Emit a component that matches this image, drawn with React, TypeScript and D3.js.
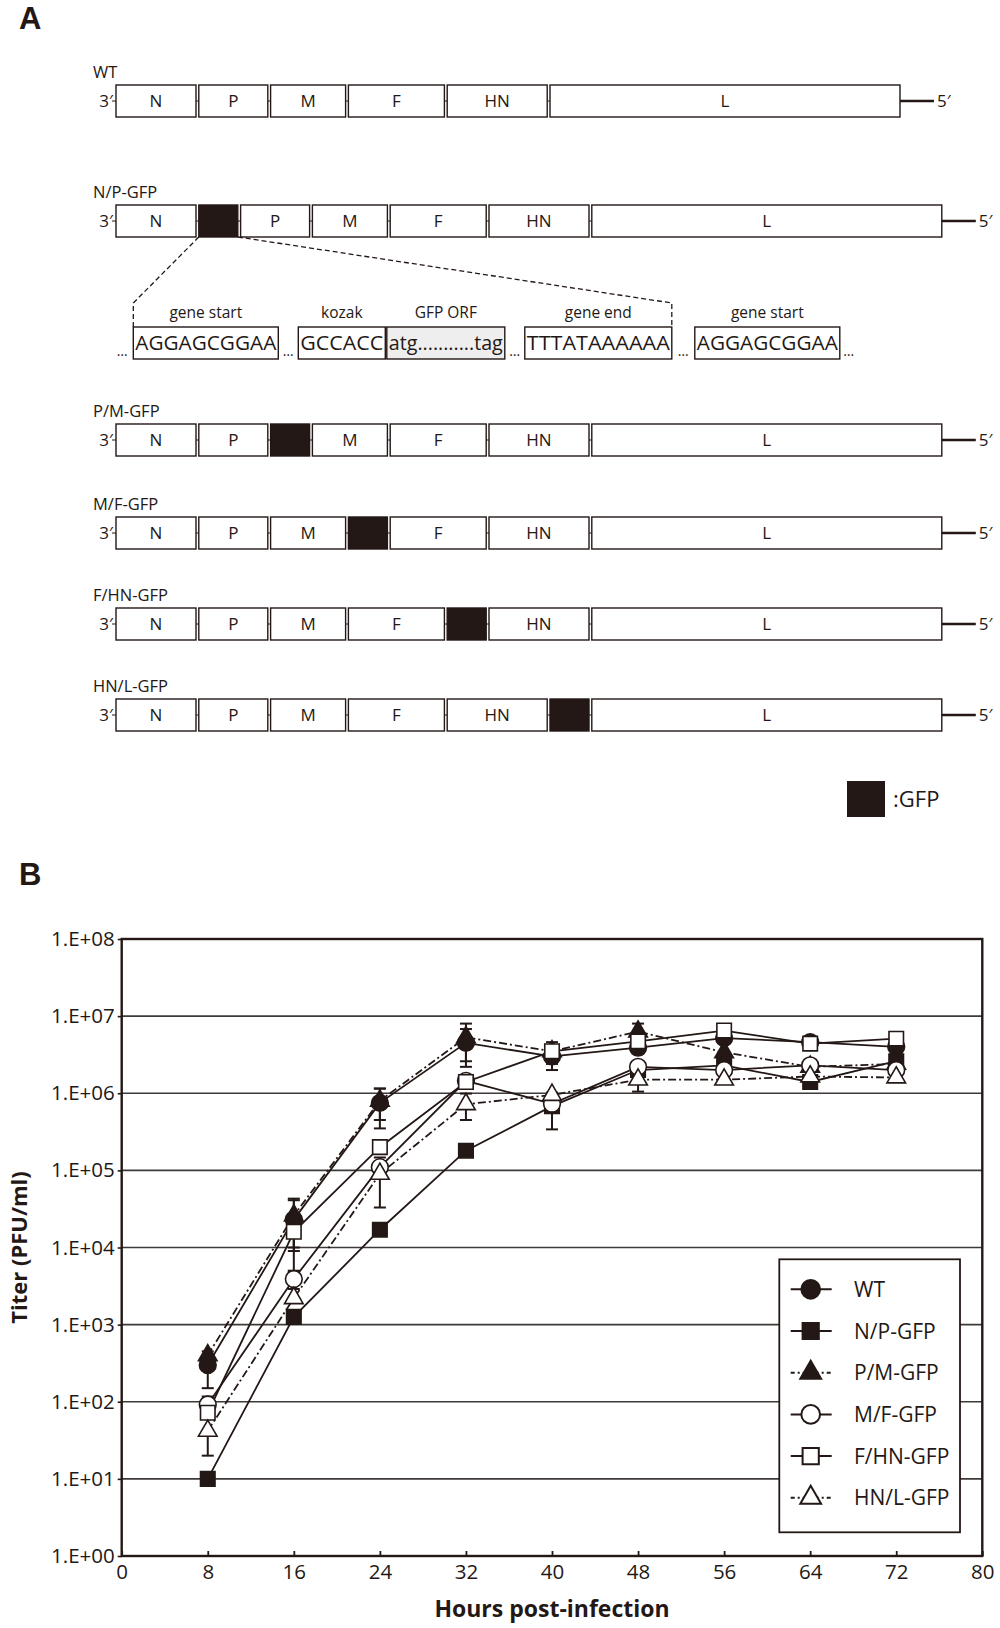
import React from 'react';
import * as d3 from 'd3';

const ink = '#231815';
const font = "'Open Sans', sans-serif";

// ---- panel A: genome maps ----
const genes = ['N', 'P', 'M', 'F', 'HN', 'L'];
const geneLengths = [80, 69, 75, 96, 100, 350];
const gfpLength = 39;
const constructs = ['WT', 'N/P-GFP', 'P/M-GFP', 'M/F-GFP', 'F/HN-GFP', 'HN/L-GFP'];
const insertAfter = [-1, 0, 1, 2, 3, 4]; // gene index that the GFP cassette follows

const cassetteLabels = ['gene start', 'kozak', 'GFP ORF', 'gene end', 'gene start'];
const cassetteSeqs = ['AGGAGCGGAA', 'GCCACC', 'atg...........tag', 'TTTATAAAAAA', 'AGGAGCGGAA'];
const cassetteWidths = [145, 87, 118, 147, 145];
const cassetteGaps = [20, 1.5, 20, 23];

// ---- panel B: growth curves ----
const hours = [8, 16, 24, 32, 40, 48, 56, 64, 72];
const wtTiter = [300, 23000, 750000, 4.5e6, 3.0e6, 3.9e6, 5.2e6, 4.6e6, 4.0e6];
const npTiter = [10, 1260, 17000, 1.8e5, 6.8e5, 2.0e6, 2.3e6, 1.4e6, 2.6e6];
const pmTiter = [400, 26000, 800000, 5.3e6, 3.5e6, 6.3e6, 3.4e6, 2.2e6, 2.4e6];
const mfTiter = [92, 3900, 110000, 1.45e6, 730000, 2.2e6, 2.0e6, 2.3e6, 2.0e6];
const fhnTiter = [72, 16000, 200000, 1.4e6, 3.5e6, 4.7e6, 6.5e6, 4.4e6, 5.1e6];
const hnlTiter = [42, 2200, 90000, 720000, 950000, 1.5e6, 1.5e6, 1.65e6, 1.6e6];

const wtSd = [150, 18000, 400000, 2.3e6, 1.0e6, 0, 0, 0, 0];
const npSd = [0, 0, 0, 0, 340000, 0, 0, 0, 0];
const pmSd = [0, 17000, 350000, 2.7e6, 0, 1.7e6, 0, 0, 0];
const mfSd = [25, 1000, 0, 0, 0, 0, 0, 0, 0];
const fhnSd = [0, 6000, 0, 0, 1.1e6, 0, 0, 0, 0];
const hnlSd = [22, 0, 57000, 270000, 0, 450000, 0, 0, 0];

const seriesValues = [wtTiter, npTiter, pmTiter, mfTiter, fhnTiter, hnlTiter];
const seriesSd = [wtSd, npSd, pmSd, mfSd, fhnSd, hnlSd];
const seriesShapes = ['circle', 'square', 'triangle', 'circle', 'square', 'triangle'];
const seriesFilled = [true, true, true, false, false, false];
const seriesDashed = [false, false, true, false, false, true];

const xTicks = [0, 8, 16, 24, 32, 40, 48, 56, 64, 72, 80];
const yTicks = [1, 1e1, 1e2, 1e3, 1e4, 1e5, 1e6, 1e7, 1e8];
const yTickLabels = ['1.E+00', '1.E+01', '1.E+02', '1.E+03', '1.E+04', '1.E+05', '1.E+06', '1.E+07', '1.E+08'];

const symbolTypes: any = { circle: d3.symbolCircle, square: d3.symbolSquare, triangle: d3.symbolTriangle };
const symbolSizes: any = { circle: 220, square: 210, triangle: 150 };

function layoutRow(ci: number, gap: number) {
    const segs: any[] = [];
    let pos = 0;
    genes.forEach((g, i) => {
        segs.push({ name: g, start: pos, end: pos + geneLengths[i], gfp: false });
        pos += geneLengths[i] + gap;
        if (insertAfter[ci] === i) {
            segs.push({ name: '', start: pos, end: pos + gfpLength, gfp: true });
            pos += gfpLength + gap;
        }
    });
    return segs;
}

export default function App() {

    const xAxisRef = React.useRef<SVGGElement>(null);
    const yAxisRef = React.useRef<SVGGElement>(null);

    const plot = { left: 121.7, right: 982.3, top: 939, bottom: 1556 };
    const xScale = d3.scaleLinear().domain([0, 80]).range([plot.left, plot.right]);
    const yScale = d3.scaleLog().domain([1, 1e8]).range([plot.bottom, plot.top]);

    // genome map scale (relative length units)
    const aScale = d3.scaleLinear().domain([0, 830]).range([116, 946]);
    const rowTops = [85, 205, 424, 517, 608, 699];
    const boxH = 32;
    const rows = constructs.map((c, i) => layoutRow(i, 2.8));

    // cassette scale
    const cassette: any[] = [];
    let cpos = 0;
    cassetteWidths.forEach((w, i) => {
        cassette.push({ label: cassetteLabels[i], seq: cassetteSeqs[i], start: cpos, end: cpos + w });
        cpos += w + (cassetteGaps[i] || 0);
    });
    const cScale = d3.scaleLinear().domain([0, cpos]).range([133.3, 133.3 + cpos]);
    const cTop = 327;

    React.useEffect(() => {
        const yAxis = d3.axisLeft(yScale).tickValues(yTicks)
            .tickFormat((d, i) => yTickLabels[i]).tickSize(4).tickPadding(3);
        const gy = d3.select(yAxisRef.current).call(yAxis as any);
        gy.select('.domain').remove();
        gy.selectAll('line').attr('stroke', ink).attr('stroke-width', 1.6);
        gy.selectAll('text').attr('font-family', font).attr('font-size', 20.5).attr('fill', ink);

        const xAxis = d3.axisBottom(xScale).tickValues(xTicks).tickSize(-5).tickPadding(8);
        const gx = d3.select(xAxisRef.current)
            .attr('transform', `translate(0,${plot.bottom})`)
            .call(xAxis as any);
        gx.select('.domain').remove();
        gx.selectAll('line').attr('stroke', ink).attr('stroke-width', 1.8);
        gx.selectAll('text').attr('font-family', font).attr('font-size', 20.5).attr('fill', ink);
    }, []);

    const line = d3.line<number>()
        .x((d, i) => xScale(hours[i]))
        .y(d => yScale(d));

    const symbol = (shape: string, scale = 1) =>
        d3.symbol().type(symbolTypes[shape]).size(symbolSizes[shape] * scale)() as string;

    const npRow = rows[1];
    const npGfp = npRow.find((s: any) => s.gfp);
    const lastBox = cassette[3];

    const legend = { x: 779.3, y: 1259.3, w: 180.7, h: 273, row: 41.7 };

    return <svg width={1000} height={1628} style={{ position: 'absolute', left: 0, top: 0, background: '#fff' }}>
        <rect x={0} y={0} width={1000} height={1628} fill="#fff" />

        {/* panel letters */}
        <text x={19} y={29} fontFamily="'Liberation Sans', Arial, sans-serif" fontWeight="bold" fontSize={31} fill={ink}>A</text>
        <text x={19} y={885} fontFamily="'Liberation Sans', Arial, sans-serif" fontWeight="bold" fontSize={31} fill={ink}>B</text>

        {/* genome maps */}
        {rows.map((segs: any[], ri: number) => {
            const top = rowTops[ri];
            const mid = top + boxH / 2;
            const last = segs[segs.length - 1];
            return <g key={ri} fontFamily={font} fill={ink}>
                <text x={93} y={top - 7} fontSize={16.5}>{constructs[ri]}</text>
                <text x={113} y={mid} dy="0.36em" fontSize={17} textAnchor="end">3′</text>
                <line x1={112} x2={aScale(last.start)} y1={mid} y2={mid} stroke={ink} strokeWidth={1} />
                <line x1={aScale(last.end)} x2={aScale(last.end) + 34} y1={mid} y2={mid} stroke={ink} strokeWidth={2.6} />
                <text x={aScale(last.end) + 37} y={mid} dy="0.36em" fontSize={17}>5′</text>
                {segs.map((s: any, si: number) => <g key={si}>
                    <rect x={aScale(s.start)} y={top} width={aScale(s.end) - aScale(s.start)} height={boxH}
                        fill={s.gfp ? ink : '#fff'} stroke={ink} strokeWidth={1.4} />
                    {s.name && <text x={(aScale(s.start) + aScale(s.end)) / 2} y={mid} dy="0.36em"
                        textAnchor="middle" fontSize={17}>{s.name}</text>}
                </g>)}
            </g>;
        })}

        {/* zoom-in of the inserted cassette */}
        <path d={`M${aScale(npGfp.start)},${rowTops[1] + boxH}L${cScale(0)},303L${cScale(0)},${cTop}`}
            fill="none" stroke={ink} strokeWidth={1.3} strokeDasharray="5,3" />
        <path d={`M${aScale(npGfp.end)},${rowTops[1] + boxH}L${cScale(lastBox.end)},303L${cScale(lastBox.end)},${cTop}`}
            fill="none" stroke={ink} strokeWidth={1.3} strokeDasharray="5,3" />
        <g fontFamily={font} fill={ink}>
            {cassette.map((c: any, i: number) => <g key={i}>
                <text x={(cScale(c.start) + cScale(c.end)) / 2} y={318} fontSize={15.5} textAnchor="middle">{c.label}</text>
                <rect x={cScale(c.start)} y={cTop} width={cScale(c.end) - cScale(c.start)} height={boxH}
                    fill={i === 2 ? '#eeeeee' : '#fff'} stroke={ink} strokeWidth={1.4} />
                <text x={cScale(c.start) + 2} y={cTop + boxH / 2} dy="0.36em" fontSize={20.5}
                    textLength={cScale(c.end) - cScale(c.start) - 4} lengthAdjust="spacingAndGlyphs">{c.seq}</text>
                {(cassetteGaps[i] || 0) > 10 && <text x={cScale(c.end) + cassetteGaps[i] / 2} y={cTop + boxH - 3}
                    fontSize={14} textAnchor="middle">…</text>}
            </g>)}
            <text x={cScale(0) - 11} y={cTop + boxH - 3} fontSize={14} textAnchor="middle">…</text>
            <text x={cScale(cpos) + 9} y={cTop + boxH - 3} fontSize={14} textAnchor="middle">…</text>
        </g>

        {/* GFP key */}
        <rect x={847} y={781} width={38} height={36} fill={ink} />
        <text x={893} y={807} fontFamily={font} fontSize={22} fill={ink}>:GFP</text>

        {/* panel B */}
        {yTicks.slice(1, -1).map((t, i) =>
            <line key={i} x1={plot.left} x2={plot.right} y1={yScale(t)} y2={yScale(t)} stroke="#3e3a39" strokeWidth={1.6} />)}
        <rect x={plot.left} y={plot.top} width={plot.right - plot.left} height={plot.bottom - plot.top}
            fill="none" stroke={ink} strokeWidth={2.4} />
        <g ref={yAxisRef} transform={`translate(${plot.left},0)`} />
        <g ref={xAxisRef} />

        {seriesValues.map((vals, si) =>
            <path key={'l' + si} d={line(vals) as string} fill="none" stroke={ink} strokeWidth={1.8}
                strokeDasharray={seriesDashed[si] ? '8,3,2,3' : undefined} />)}

        {seriesValues.map((vals, si) => <g key={'e' + si} stroke={ink} strokeWidth={2}>
            {vals.map((v, i) => {
                const sd = seriesSd[si][i];
                if (!sd) return null;
                const x = xScale(hours[i]);
                const y1 = yScale(v + sd), y2 = yScale(Math.max(v - sd, v * 0.05));
                return <g key={i}>
                    <line x1={x} x2={x} y1={y1} y2={y2} />
                    <line x1={x - 6} x2={x + 6} y1={y1} y2={y1} />
                    <line x1={x - 6} x2={x + 6} y1={y2} y2={y2} />
                </g>;
            })}
        </g>)}

        {seriesValues.map((vals, si) => <g key={'m' + si}>
            {vals.map((v, i) =>
                <path key={i} d={symbol(seriesShapes[si])}
                    transform={`translate(${xScale(hours[i])},${yScale(v)})`}
                    fill={seriesFilled[si] ? ink : '#fff'} stroke={ink} strokeWidth={1.6} />)}
        </g>)}

        {/* legend */}
        <rect x={legend.x} y={legend.y} width={legend.w} height={legend.h} fill="#fff" stroke={ink} strokeWidth={1.8} />
        {constructs.map((c, i) => {
            const cy = legend.y + 30 + i * legend.row;
            return <g key={i}>
                <line x1={790.7} x2={831.7} y1={cy} y2={cy} stroke={ink} strokeWidth={2}
                    strokeDasharray={seriesDashed[i] ? '4,3,2,3' : undefined} />
                <path d={symbol(seriesShapes[i], 1.25)} transform={`translate(810.7,${cy})`}
                    fill={seriesFilled[i] ? ink : '#fff'} stroke={ink} strokeWidth={2} />
                <text x={854} y={cy} dy="0.36em" fontFamily={font} fontSize={21} fill={ink}>{c}</text>
            </g>;
        })}

        {/* axis titles */}
        <text x={(plot.left + plot.right) / 2} y={1617} textAnchor="middle" fontFamily={font}
            fontWeight="bold" fontSize={23} fill={ink}>Hours post-infection</text>
        <text transform={`translate(27,${(plot.top + plot.bottom) / 2}) rotate(-90)`} textAnchor="middle"
            fontFamily={font} fontWeight="bold" fontSize={22} fill={ink}>Titer (PFU/ml)</text>
    </svg>
}
